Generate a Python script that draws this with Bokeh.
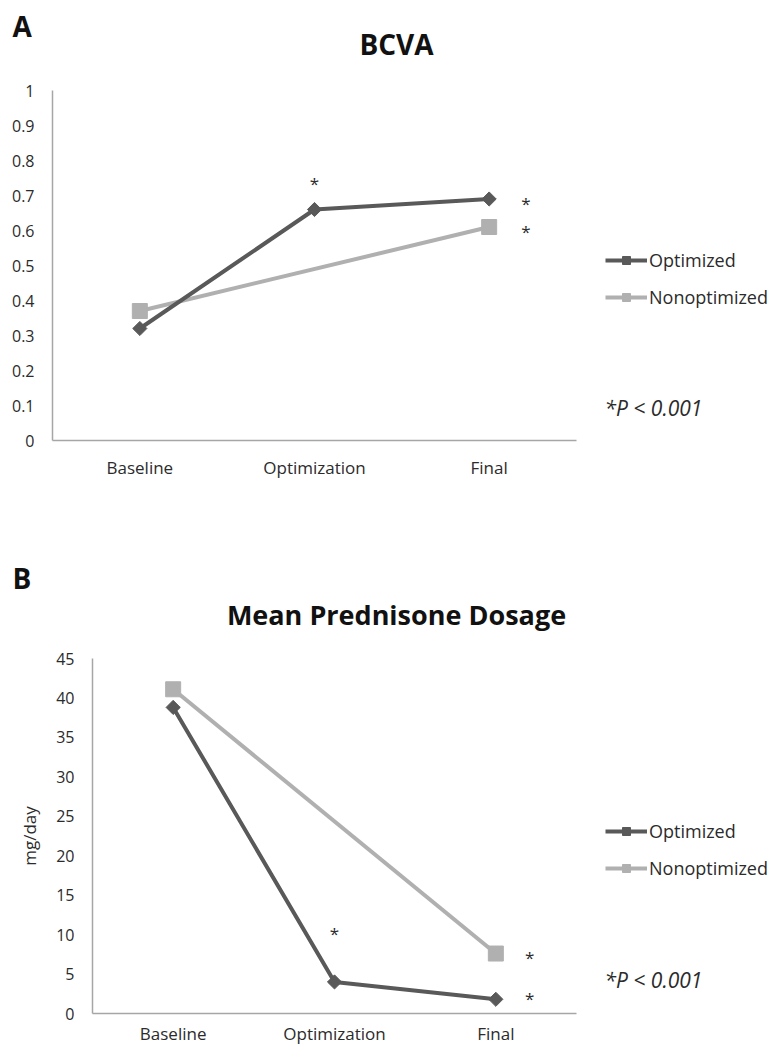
import math
from bokeh.plotting import figure
from bokeh.models import Range1d, FixedTicker, Label, Legend, LegendItem
from bokeh.layouts import column
from bokeh.embed import file_html
from bokeh.resources import INLINE
from bokeh.core.properties import value

# ---------------- data ----------------
stages = ["Baseline", "Optimization", "Final"]
series_names = ["Optimized", "Nonoptimized"]

bcva_optimized = [0.32, 0.66, 0.69]
bcva_nonoptimized = [0.37, None, 0.61]

pred_optimized = [38.8, 4.0, 1.8]
pred_nonoptimized = [41.1, None, 7.6]

bcva_ticks = [0, 0.1, 0.2, 0.3, 0.4, 0.5, 0.6, 0.7, 0.8, 0.9, 1]
bcva_tick_labels = ["0", "0.1", "0.2", "0.3", "0.4", "0.5", "0.6", "0.7", "0.8", "0.9", "1"]
pred_ticks = [0, 5, 10, 15, 20, 25, 30, 35, 40, 45]
pred_tick_labels = ["0", "5", "10", "15", "20", "25", "30", "35", "40", "45"]

# significance markers: (stage, value)
bcva_sig = [("Optimization", 0.745), ("Final", 0.69), ("Final", 0.61)]
pred_sig = [("Optimization", 10.6), ("Final", 7.6), ("Final", 2.4)]
sig_note = "*P < 0.001"

# ---------------- style ----------------
FONT = "Open Sans"
DARK = "#595959"
LIGHT = "#b0b0b0"
TEXT = "#2b2b2b"
AXIS = "#a6a6a6"
W = 768


def make_header(height, letter, letter_y, title, title_x, title_y, title_size):
    h = figure(width=W, height=height, x_range=Range1d(0, W), y_range=Range1d(0, height),
               x_axis_type=None, y_axis_type=None, output_backend="svg",
               toolbar_location=None, min_border=0, frame_align=False)
    h.outline_line_color = None
    h.grid.visible = False
    h.add_layout(Label(x=12, y=height - letter_y, x_units="screen", y_units="screen",
                       text=letter, text_align="left", text_baseline="middle",
                       text_font=FONT, text_font_style="bold", text_font_size="28px",
                       text_color="#111111"))
    h.add_layout(Label(x=title_x, y=height - title_y, x_units="screen", y_units="screen",
                       text=title, text_align="center", text_baseline="middle",
                       text_font=FONT, text_font_style="bold", text_font_size=title_size,
                       text_color="#111111"))
    return h


def make_panel(height, left, top, bottom, cat_px, ymax, ticks, tick_labels,
               opt, nonopt, sig, legend_pos, note_pos, x_standoff, ylabel=None):
    frame_w = W - left
    p = figure(width=W, height=height,
               x_range=Range1d(0, frame_w / cat_px), y_range=Range1d(0, ymax),
               output_backend="svg", toolbar_location=None, frame_align=False,
               min_border_left=left, min_border_right=0,
               min_border_top=top, min_border_bottom=bottom)
    p.outline_line_color = None
    p.grid.visible = False
    p.background_fill_color = "white"
    p.border_fill_color = "white"

    xpos = {s: i + 0.5 for i, s in enumerate(stages)}

    nx = [xpos[s] for s, v in zip(stages, nonopt) if v is not None]
    ny = [v for v in nonopt if v is not None]
    ox = [xpos[s] for s in stages]
    oy = list(opt)

    ln = p.line(nx, ny, line_color=LIGHT, line_width=4)
    lo = p.line(ox, oy, line_color=DARK, line_width=4)
    sn = p.scatter(nx, ny, marker="square", size=15, fill_color=LIGHT, line_color=LIGHT)
    so = p.scatter(ox, oy, marker="square", size=10, angle=math.pi / 4,
                   fill_color=DARK, line_color=DARK)

    sx = [xpos[s] + (0.0 if s == "Optimization" else 0.21) for s, v in sig]
    sy = [v for s, v in sig]
    p.text(sx, sy, text=["*"] * len(sx), text_align="center", text_baseline="middle",
           text_font=value(FONT), text_font_size="17px", text_color=TEXT, y_offset=4)

    for ax in p.axis:
        ax.axis_line_color = AXIS
        ax.axis_line_width = 1.5
        ax.major_tick_line_color = None
        ax.minor_tick_line_color = None
        ax.major_tick_out = 0
        ax.major_tick_in = 0
        ax.minor_tick_out = 0
        ax.minor_tick_in = 0
        ax.major_label_text_font = FONT
        ax.major_label_text_color = TEXT
    p.xaxis.major_label_text_font_size = "17px"
    p.yaxis.major_label_text_font_size = "16px"
    p.xaxis.ticker = FixedTicker(ticks=[xpos[s] for s in stages])
    p.xaxis.major_label_overrides = {xpos[s]: s for s in stages}
    p.xaxis.bounds = (0, 3)
    p.xaxis.major_label_standoff = x_standoff
    p.yaxis.ticker = FixedTicker(ticks=ticks)
    p.yaxis.major_label_overrides = {t: l for t, l in zip(ticks, tick_labels)}
    p.yaxis.major_label_standoff = 18
    if ylabel:
        p.yaxis.axis_label = ylabel
        p.yaxis.axis_label_text_font = FONT
        p.yaxis.axis_label_text_font_style = "normal"
        p.yaxis.axis_label_text_font_size = "17px"
        p.yaxis.axis_label_text_color = TEXT
        p.yaxis.axis_label_standoff = 12

    legend = Legend(items=[LegendItem(label=series_names[0], renderers=[lo, so]),
                           LegendItem(label=series_names[1], renderers=[ln, sn])],
                    location=legend_pos, orientation="vertical",
                    glyph_width=42, glyph_height=20, label_height=20,
                    spacing=13, padding=0, margin=0, label_standoff=2,
                    border_line_color=None, background_fill_alpha=0,
                    label_text_font=FONT, label_text_font_size="18px",
                    label_text_color=TEXT)
    p.add_layout(legend)

    p.add_layout(Label(x=note_pos[0], y=note_pos[1], x_units="screen", y_units="screen",
                       text=sig_note, text_align="left", text_baseline="middle",
                       text_font=FONT, text_font_style="italic", text_font_size="21px",
                       text_color=TEXT))
    return p


head_a = make_header(62, "A", 25, "BCVA", 396, 43, "28px")
pa = make_panel(height=478, left=52, top=28, bottom=100, cat_px=524 / 3, ymax=1,
                ticks=bcva_ticks, tick_labels=bcva_tick_labels,
                opt=bcva_optimized, nonopt=bcva_nonoptimized, sig=bcva_sig,
                legend_pos=(553, 131), note_pos=(552, 33), x_standoff=15)

head_b = make_header(95, "B", 37, "Mean Prednisone Dosage", 396, 74, "27px")
pb = make_panel(height=414, left=92, top=23, bottom=36, cat_px=484 / 3, ymax=45,
                ticks=pred_ticks, tick_labels=pred_tick_labels,
                opt=pred_optimized, nonopt=pred_nonoptimized, sig=pred_sig,
                legend_pos=(513, 133), note_pos=(512, 34), x_standoff=8,
                ylabel="mg/day")

layout = column(head_a, pa, head_b, pb, spacing=0)
open("out.html", "w").write(file_html(layout, INLINE))
